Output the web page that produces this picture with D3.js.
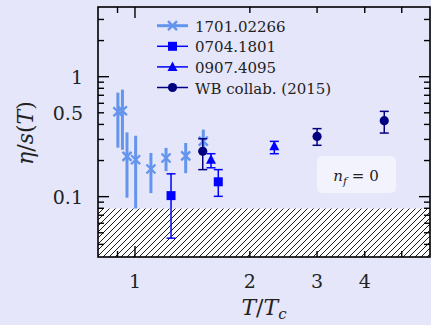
<!DOCTYPE html>
<html>
<head>
<meta charset="utf-8">
<script src="https://cdn.jsdelivr.net/npm/d3@7"></script>
<style>
  body { margin: 0; background: #e6e6fa; }
  svg { display: block; }
  svg text { font-family: "DejaVu Serif", "Liberation Serif", serif; }
</style>
</head>
<body>
<svg id="chart" width="431" height="325" fill="#222"></svg>
<script>
// ---- data ----
const kss = 1 / (4 * Math.PI);   // KSS bound, hatched below

const s1T  = [0.902, 0.927, 0.953, 1.004, 1.101, 1.206, 1.358, 1.51];
const s1V  = [0.51, 0.52, 0.217, 0.203, 0.170, 0.210, 0.219, 0.29];
const s1Lo = [0.256, 0.246, 0.098, 0.07, 0.107, 0.163, 0.157, 0.256];
const s1Hi = [0.736, 0.78, 0.343, 0.322, 0.231, 0.255, 0.280, 0.362];

const s2T  = [1.243, 1.653];
const s2V  = [0.102, 0.133];
const s2Lo = [0.0451, 0.1006];
const s2Hi = [0.155, 0.168];

const s3T  = [1.582, 2.318];
const s3V  = [0.203, 0.263];
const s3Lo = [0.174, 0.228];
const s3Hi = [0.228, 0.289];

const s4T  = [1.505, 3.0, 4.5];
const s4V  = [0.239, 0.318, 0.430];
const s4Lo = [0.168, 0.268, 0.339];
const s4Hi = [0.304, 0.369, 0.514];

const legendNames = ["1701.02266", "0704.1801", "0907.4095", "WB collab. (2015)"];

const xMajor = [1], xMinor = [0.9, 2, 3, 4, 5], xLabels = [1, 2, 3, 4];
const yMajor = [0.1, 1];
const yMinor = [0.04, 0.05, 0.06, 0.07, 0.08, 0.09, 0.2, 0.3, 0.4, 0.5, 0.6, 0.7, 0.8, 0.9, 2, 3];
const yLabels = [0.1, 0.5, 1];

// ---- layout ----
const L = 98, R = 430, T = 7, B = 257;
const svg = d3.select("#chart");

const x = d3.scaleLog().domain([0.8, 5.93]).range([L, R]);
const y = d3.scaleLog().domain([0.0314, 3.81]).range([B, T]);

const c1 = "#6495ed", c2 = "#0000ff", c3 = "#0000ff", c4 = "#000080";

// hatch pattern
const defs = svg.append("defs");
const pat = defs.append("pattern")
  .attr("id", "hatch")
  .attr("patternUnits", "userSpaceOnUse")
  .attr("width", 6).attr("height", 6);
pat.append("rect").attr("width", 6).attr("height", 6).attr("fill", "#fff");
pat.append("path")
  .attr("d", "M0,6 L6,0 M-1.5,1.5 L1.5,-1.5 M4.5,7.5 L7.5,4.5")
  .attr("stroke", "#000").attr("stroke-width", 0.9);

defs.append("clipPath").attr("id", "clip")
  .append("rect").attr("x", L).attr("y", T).attr("width", R - L).attr("height", B - T);

const plot = svg.append("g").attr("clip-path", "url(#clip)");

function pts(ts, vs, lo, hi) {
  return ts.map((t, i) => ({t: t, v: vs[i], lo: lo[i], hi: hi[i]}));
}

function xMark(g, cx, cy, s, col, w) {
  g.append("path")
    .attr("d", `M${cx - s},${cy - s}L${cx + s},${cy + s}M${cx - s},${cy + s}L${cx + s},${cy - s}`)
    .attr("stroke", col).attr("stroke-width", w).attr("fill", "none");
}

function marker(g, type, cx, cy, col) {
  if (type === "x") xMark(g, cx, cy, 4.5, col, 2.4);
  else if (type === "s") g.append("rect").attr("x", cx - 4.5).attr("y", cy - 4.5)
    .attr("width", 9).attr("height", 9).attr("fill", col);
  else if (type === "t") g.append("path")
    .attr("d", `M${cx},${cy - 5.5}L${cx + 5},${cy + 4}L${cx - 5},${cy + 4}Z`).attr("fill", col);
  else if (type === "o") g.append("circle").attr("cx", cx).attr("cy", cy).attr("r", 4.6).attr("fill", col);
}

function errSeries(data, col, type, capped, w) {
  const g = plot.append("g");
  data.forEach(d => {
    const cx = x(d.t);
    g.append("line").attr("x1", cx).attr("x2", cx)
      .attr("y1", y(d.lo)).attr("y2", y(d.hi))
      .attr("stroke", col).attr("stroke-width", w);
    if (capped) {
      [d.lo, d.hi].forEach(v => g.append("line")
        .attr("x1", cx - 4.5).attr("x2", cx + 4.5)
        .attr("y1", y(v)).attr("y2", y(v))
        .attr("stroke", col).attr("stroke-width", 1.5));
    }
  });
  data.forEach(d => marker(g, type, x(d.t), y(d.v), col));
}

errSeries(pts(s1T, s1V, s1Lo, s1Hi), c1, "x", false, 3);

// hatched region below the KSS bound
plot.append("rect")
  .attr("x", L).attr("width", R - L)
  .attr("y", y(kss)).attr("height", B - y(kss))
  .attr("fill", "url(#hatch)");

errSeries(pts(s2T, s2V, s2Lo, s2Hi), c2, "s", true, 1.5);
errSeries(pts(s3T, s3V, s3Lo, s3Hi), c3, "t", true, 1.5);
errSeries(pts(s4T, s4V, s4Lo, s4Hi), c4, "o", true, 1.5);

// frame
svg.append("rect").attr("x", L).attr("y", T).attr("width", R - L).attr("height", B - T)
  .attr("fill", "none").attr("stroke", "#000").attr("stroke-width", 1.6);

// ticks (inward, all sides)
const tk = svg.append("g").attr("stroke", "#000").attr("stroke-width", 1.4);
function xTicks(vals, len) {
  vals.forEach(v => {
    tk.append("line").attr("x1", x(v)).attr("x2", x(v)).attr("y1", B).attr("y2", B - len);
    tk.append("line").attr("x1", x(v)).attr("x2", x(v)).attr("y1", T).attr("y2", T + len);
  });
}
function yTicks(vals, len) {
  vals.forEach(v => {
    tk.append("line").attr("y1", y(v)).attr("y2", y(v)).attr("x1", L).attr("x2", L + len);
    tk.append("line").attr("y1", y(v)).attr("y2", y(v)).attr("x1", R).attr("x2", R - len);
  });
}
xTicks(xMajor, 11); xTicks(xMinor, 6);
yTicks(yMajor, 11); yTicks(yMinor, 6);

svg.append("g").selectAll("text").data(xLabels).join("text")
  .attr("x", d => x(d)).attr("y", 288)
  .attr("text-anchor", "middle").attr("font-size", 19)
  .text(d => d);

svg.append("g").selectAll("text").data(yLabels).join("text")
  .attr("x", 83).attr("y", d => y(d) + 7)
  .attr("text-anchor", "end").attr("font-size", 19)
  .text(d => d);

// axis labels
const xl = svg.append("text").attr("x", 264).attr("y", 315)
  .attr("text-anchor", "middle").attr("font-size", 22);
xl.append("tspan").attr("font-style", "italic").text("T");
xl.append("tspan").text("/");
xl.append("tspan").attr("font-style", "italic").text("T");
xl.append("tspan").attr("font-style", "italic").attr("font-size", 15).attr("dy", 4).text("c");

const yl = svg.append("text").attr("transform", "translate(33,133) rotate(-90)")
  .attr("text-anchor", "middle").attr("font-size", 22);
yl.append("tspan").attr("font-style", "italic").text("η");
yl.append("tspan").text("/");
yl.append("tspan").attr("font-style", "italic").text("s");
yl.append("tspan").text("(");
yl.append("tspan").attr("font-style", "italic").text("T");
yl.append("tspan").text(")");

// legend
const legStyle = [
  {col: c1, type: "x", w: 3},
  {col: c2, type: "s", w: 1.5},
  {col: c3, type: "t", w: 1.5},
  {col: c4, type: "o", w: 1.5}
];
const leg = svg.append("g");
legendNames.forEach((name, i) => {
  const ly = 25.7 + i * 20.6;
  const st = legStyle[i];
  leg.append("line").attr("x1", 157).attr("x2", 188).attr("y1", ly).attr("y2", ly)
    .attr("stroke", st.col).attr("stroke-width", st.w);
  marker(leg, st.type, 172.5, ly, st.col);
  leg.append("text").attr("x", 195).attr("y", ly + 6).attr("font-size", 15).text(name);
});

// n_f = 0 box
svg.append("rect").attr("x", 317).attr("y", 156).attr("width", 79).attr("height", 37)
  .attr("rx", 5).attr("fill", "#f3f3fd");
const nf = svg.append("text").attr("x", 356).attr("y", 181)
  .attr("text-anchor", "middle").attr("font-size", 15);
nf.append("tspan").attr("font-style", "italic").text("n");
nf.append("tspan").attr("font-style", "italic").attr("font-size", 11).attr("dy", 4).text("f");
nf.append("tspan").attr("dy", -4).text(" = 0");
</script>
</body>
</html>
